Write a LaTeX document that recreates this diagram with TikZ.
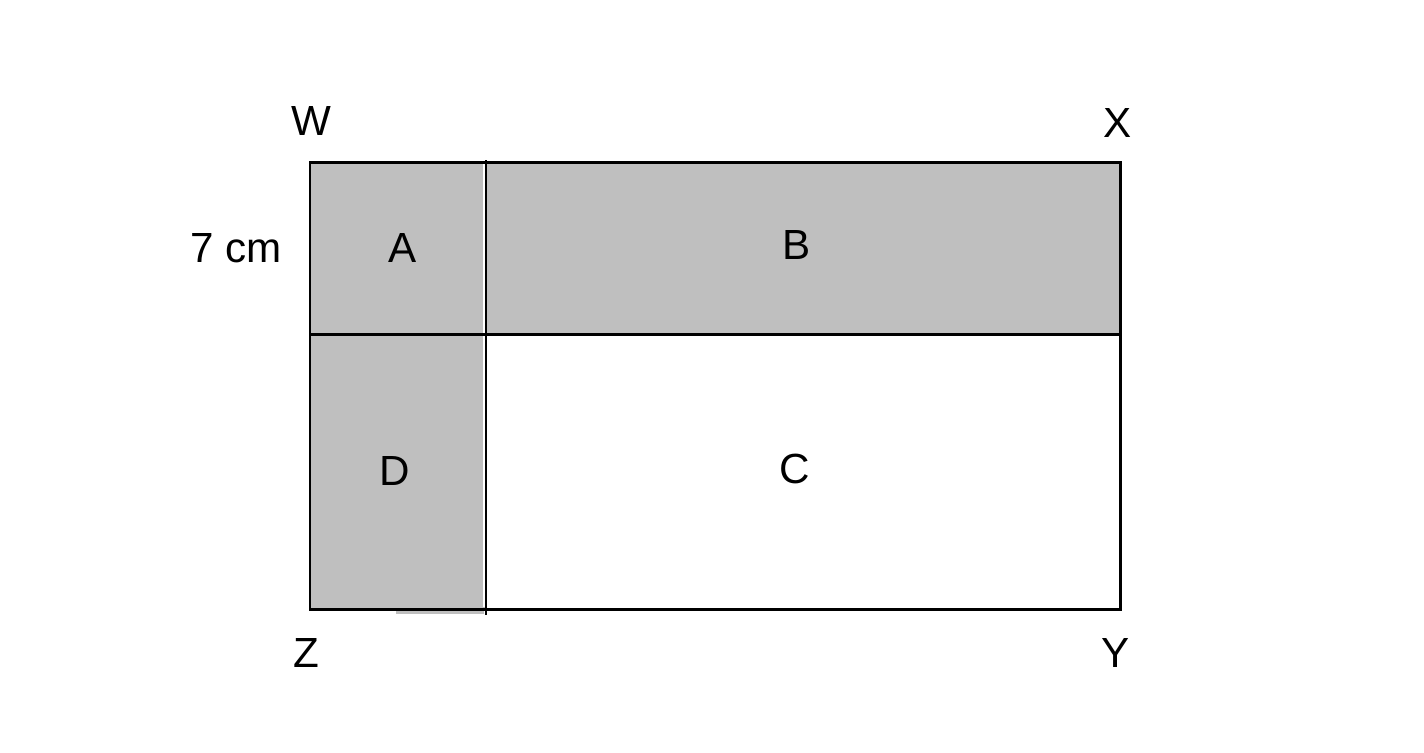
\documentclass[tikz,border=0pt]{standalone}
\usepackage{fontspec}
\setmainfont{Liberation Sans}
\begin{document}
\begin{tikzpicture}[x=0.02cm,y=-0.02cm]
	\tikzstyle{label_style} = [font=\fontsize{24}{28}\selectfont,inner sep=0pt]
	\tikzstyle{edge_style} = [draw=black,line width=1.7pt]
	\tikzstyle{shade_style} = [fill=gray!50!white!100]
	\useasboundingbox (0,0) rectangle (1424,752);
	\coordinate (w) at (310,162);
	\coordinate (x) at (1120,162);
	\coordinate (y) at (1120,609);
	\coordinate (z) at (310,609);
	\coordinate (m1) at (310,334);
	\coordinate (m2) at (1120,334);
	\coordinate (v1) at (486,160);
	\coordinate (v2) at (486,615);
	\fill[shade_style] (w) rectangle (m2);
	\fill[shade_style] (m1) rectangle (486,609);
	\fill[shade_style] (396,609) rectangle (484,614);
	\draw[white,line width=0.6pt] (484,164) -- (484,607);
	\draw[edge_style] (w) rectangle (y);
	\draw[edge_style] (m1) -- (m2);
	\draw[draw=black,line width=1pt] (v1) -- (v2);
	\node[label_style] (lw) at (311,121) {W};
	\node[label_style] (lx) at (1118,123) {X};
	\node[label_style] (ly) at (1116,653) {Y};
	\node[label_style] (lz) at (306,653) {Z};
	\node[label_style] (side) at (236,248) {7 cm};
	\node[label_style] (a) at (403,248) {A};
	\node[label_style] (b) at (797,245) {B};
	\node[label_style] (c) at (795,469) {C};
	\node[label_style] (d) at (395,471) {D};
\end{tikzpicture}
\end{document}
